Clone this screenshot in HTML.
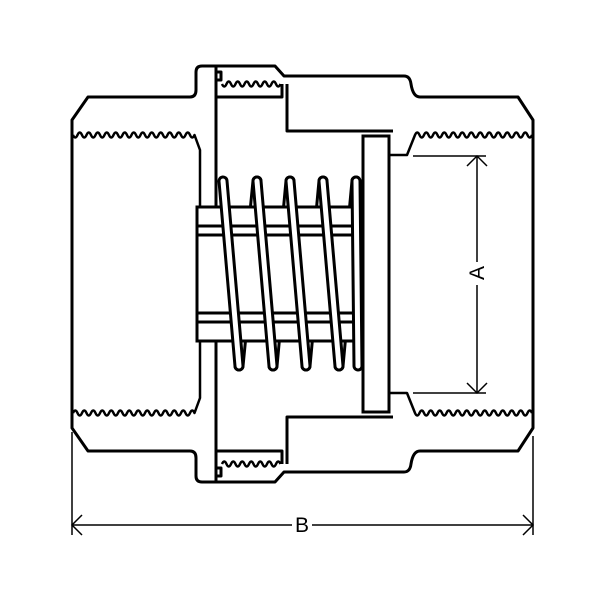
<!DOCTYPE html>
<html><head><meta charset="utf-8"><style>html,body{margin:0;padding:0;background:#fff}svg{display:block}</style></head>
<body>
<svg width="600" height="600" viewBox="0 0 600 600" xmlns="http://www.w3.org/2000/svg">
<defs>
<g id="half" fill="none" stroke="#000" stroke-width="3" stroke-linejoin="round">
  <path d="M72,274 V120 L88,97 H190 Q196,97 196,90 V72 Q196,66 202,66 H275 L284,76 H404 Q410,76 411,84 Q413,97 420,97 H518 L533,120 V274"/>
  <path d="M73,135 q2.25,5 4.5,0 q2.25,-5 4.5,0 q2.25,5 4.5,0 q2.25,-5 4.5,0 q2.25,5 4.5,0 q2.25,-5 4.5,0 q2.25,5 4.5,0 q2.25,-5 4.5,0 q2.25,5 4.5,0 q2.25,-5 4.5,0 q2.25,5 4.5,0 q2.25,-5 4.5,0 q2.25,5 4.5,0 q2.25,-5 4.5,0 q2.25,5 4.5,0 q2.25,-5 4.5,0 q2.25,5 4.5,0 q2.25,-5 4.5,0 q2.25,5 4.5,0 q2.25,-5 4.5,0 q2.25,5 4.5,0 q2.25,-5 4.5,0 q2.25,5 4.5,0 q2.25,-5 4.5,0 q2.25,5 4.5,0 q2.25,-5 4.5,0 q2.25,5 4.5,0 L200,150 V207" stroke-width="2.5"/>
  <path d="M532,135 q-2.25,5 -4.5,0 q-2.25,-5 -4.5,0 q-2.25,5 -4.5,0 q-2.25,-5 -4.5,0 q-2.25,5 -4.5,0 q-2.25,-5 -4.5,0 q-2.25,5 -4.5,0 q-2.25,-5 -4.5,0 q-2.25,5 -4.5,0 q-2.25,-5 -4.5,0 q-2.25,5 -4.5,0 q-2.25,-5 -4.5,0 q-2.25,5 -4.5,0 q-2.25,-5 -4.5,0 q-2.25,5 -4.5,0 q-2.25,-5 -4.5,0 q-2.25,5 -4.5,0 q-2.25,-5 -4.5,0 q-2.25,5 -4.5,0 q-2.25,-5 -4.5,0 q-2.25,5 -4.5,0 q-2.25,-5 -4.5,0 q-2.25,5 -4.5,0 q-2.25,-5 -4.5,0 q-2.25,5 -4.5,0 q-2.25,-5 -4.5,0 L407,155 H389" stroke-width="2.5"/>
  <path d="M222,84 q2.25,5 4.5,0 q2.25,-5 4.5,0 q2.25,5 4.5,0 q2.25,-5 4.5,0 q2.25,5 4.5,0 q2.25,-5 4.5,0 q2.25,5 4.5,0 q2.25,-5 4.5,0 q2.25,5 4.5,0 q2.25,-5 4.5,0 q2.25,5 4.5,0 q2.25,-5 4.5,0 q2.25,5 4.5,0" stroke-width="2.5"/>
  <path d="M216,66 V188"/>
  <path d="M216,97 H282 V84"/>
  <path d="M217,72 H221 V80 H217"/>
  <path d="M287,84 V131 H393"/>
</g>
</defs>
<rect width="600" height="600" fill="#fff"/>
<use href="#half"/>
<use href="#half" transform="translate(0,548) scale(1,-1)"/>
<!-- back strands -->
<g fill="none" stroke-linecap="round">
  <path stroke="#000" stroke-width="11" d="M239,366 L257,181 M273,366 L290,181 M306,366 L323,181 M339,366 L356,181"/>
  <path stroke="#fff" stroke-width="5" d="M239,366 L257,181 M273,366 L290,181 M306,366 L323,181 M339,366 L356,181"/>
</g>
<g fill="none" stroke="#000" stroke-width="3">
  <rect x="197" y="207" width="157" height="134" fill="#fff"/>
  <path d="M197,226 H354 M197,235 H354 M197,313 H354 M197,322 H354"/>
  <path d="M216,207 V188 M216,341 V360"/>
</g>
<!-- front strands -->
<g fill="none" stroke-linecap="round">
  <path stroke="#000" stroke-width="11" d="M223,181 L239,366 M257,181 L273,366 M290,181 L306,366 M323,181 L339,366 M356,181 L358,366"/>
  <path stroke="#fff" stroke-width="5" d="M223,181 L239,366 M257,181 L273,366 M290,181 L306,366 M323,181 L339,366 M356,181 L358,366"/>
</g>
<rect x="363" y="136" width="26" height="276" fill="#fff" stroke="#000" stroke-width="3"/>
<g fill="none" stroke="#000" stroke-width="1.5">
  <path d="M413,156 H486 M413,393 H486 M477,156 V262 M477,285 V393"/>
  <path d="M467,166 L477,156 L487,166 M467,383 L477,393 L487,383"/>
  <path d="M72,432 V535 M533,436 V535 M72,525 H292 M312,525 H533"/>
  <path d="M82,515 L72,525 L82,535 M523,515 L533,525 L523,535"/>
</g>
<text x="302" y="532" font-family="Liberation Sans, sans-serif" font-size="21" text-anchor="middle">B</text>
<text x="0" y="0" font-family="Liberation Sans, sans-serif" font-size="21" text-anchor="middle" transform="translate(484,273) rotate(-90)">A</text>
</svg>
</body></html>
